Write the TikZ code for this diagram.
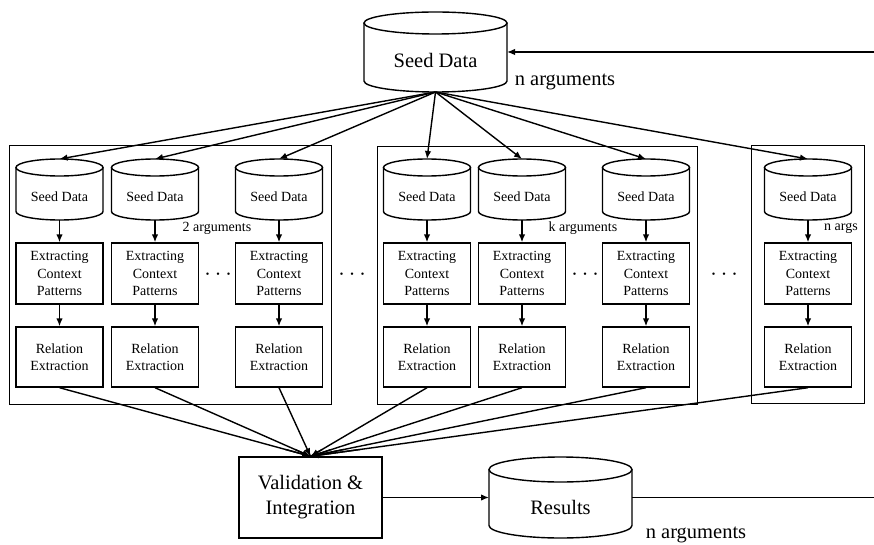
\documentclass[tikz,border=0pt]{standalone}
\usepackage{fontspec}
\setmainfont{Liberation Serif}
\usetikzlibrary{arrows.meta,calc}
\tikzset{
  lw/.style={line width=1.4pt},
  arr/.style={line width=1.4pt, -{Latex[length=8pt,width=6.5pt]}},
  small/.style={font=\fontsize{14}{17.5}\selectfont},
  big/.style={font=\fontsize{20.5}{25}\selectfont},
  box/.style={draw, line width=1.4pt, minimum width=87pt, inner sep=0pt, align=center, small},
  grp/.style={draw, line width=1pt, inner sep=0pt},
  dots/.style={font=\fontsize{10}{12}\selectfont},
}
% name, cx, top, bottom, half width, ry, text y, style, text
\newcommand\mycyl[9]{%
  \coordinate (#1-t) at (#2,#3);
  \coordinate (#1-b) at (#2,#4);
  \draw[lw] ({#2},{#3+#6}) ellipse[x radius=#5pt, y radius=#6pt];
  \draw[lw] ({#2-#5},{#3+#6}) -- ({#2-#5},{#4-#6})
     arc[start angle=180,end angle=360,x radius=#5pt,y radius=#6pt] -- ({#2+#5},{#3+#6});
  \node[#8] (#1) at (#2,#7) {#9};
}
% column: suffix, cx
\newcommand\mycol[2]{%
  \mycyl{s#1}{#2}{159}{220}{43.5}{8.5}{197}{small}{Seed Data}
  \node[box, minimum height=61pt] (e#1) at (#2,273.5) {Extracting\\Context\\Patterns};
  \node[box, minimum height=60pt] (r#1) at (#2,357) {Relation\\Extraction};
  \draw[arr] (s#1-b) -- (e#1.north);
  \draw[arr] (e#1.south) -- (r#1.north);
}
\begin{document}
\begin{tikzpicture}[x=1pt,y=-1pt]
\useasboundingbox (0,0) rectangle (874,545);

% group boxes
\node[grp, minimum width=322pt, minimum height=258pt] (g1) at (170,275) {};
\node[grp, minimum width=320pt, minimum height=257pt] (g2) at (537,275.5) {};
\node[grp, minimum width=113pt, minimum height=257pt] (g3) at (807.5,274.5) {};

% top seed data
\mycyl{seed}{435.5}{12}{92}{71.5}{11}{60}{big}{Seed Data}
\node[big] (lab-top) at (565,82) {n arguments};

% columns
\mycol{11}{59.5}
\mycol{12}{155}
\mycol{13}{279}
\mycol{21}{427}
\mycol{22}{522}
\mycol{23}{646}
\mycol{31}{808}

\node[small] (lab-2) at (217,228) {2 arguments};
\node[small] (lab-k) at (583,228) {k arguments};
\node[small] (lab-n) at (841,228) {n args};

\node[dots] (d1) at (218,275) {•\hspace{7pt}•\hspace{7pt}•};
\node[dots] (d2) at (585,275) {•\hspace{7pt}•\hspace{7pt}•};
\node[dots] (d3) at (352,275) {•\hspace{7pt}•\hspace{7pt}•};
\node[dots] (d4) at (724,275) {•\hspace{7pt}•\hspace{7pt}•};

% arrows from seed
\foreach \c in {11,12,13,21,22,23,31}{
  \draw[arr] (seed-b) -- (s\c-t);
}

% validation and results
\node[draw, lw, minimum width=143pt, minimum height=81pt, inner sep=0pt, align=center, big] (val) at (310.5,497.5) {Validation \&\\Integration};
\mycyl{res}{560.5}{457}{538}{71.5}{12.5}{507}{big}{Results}
\node[big] (lab-bot) at (696,535) {n arguments};

\foreach \c in {11,12,13,21,22,23,31}{
  \draw[lw] (r\c.south) -- (val.north);
}
\foreach \c in {11,12,13,21,22,23,31}{
  \draw[arr] ($(r\c.south)!0.9!(val.north)$) -- (val.north);
}

\coordinate (res-l) at (489,497.5);
\draw[arr] (val.east) -- (res-l);

% feedback
\coordinate (res-r) at (632,497.5);
\coordinate (fb1) at (874,497.5);
\coordinate (fb2) at (874,52);
\coordinate (seed-r) at (507,52);
\draw[lw] (res-r) -- (fb1);
\draw[arr] (fb2) -- (seed-r);
\end{tikzpicture}
\end{document}
